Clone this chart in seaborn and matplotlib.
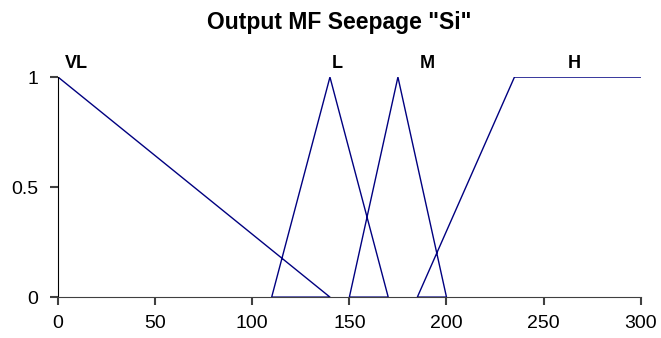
import matplotlib
matplotlib.use("Agg")
import matplotlib.pyplot as plt
import pandas as pd
import seaborn as sns

# membership function traced as one continuous series (as in the original sheet)
x_pts = [0, 140, 110, 140, 170, 150, 175, 200, 185, 235, 300]
y_pts = [1, 0, 0, 1, 0, 0, 1, 0, 0, 1, 1]

mf_labels = ["VL", "L", "M", "H"]
label_x = [9.3, 144, 190, 266]

x_ticks = [0, 50, 100, 150, 200, 250, 300]
y_ticks = [0, 0.5, 1]

df = pd.DataFrame({"x": x_pts, "y": y_pts})

sns.set_style("ticks")
plt.rcParams["font.family"] = ["Liberation Sans", "DejaVu Sans"]
plt.rcParams["text.color"] = "black"
plt.rcParams["xtick.color"] = "#404040"
plt.rcParams["ytick.color"] = "#404040"
plt.rcParams["xtick.labelcolor"] = "black"
plt.rcParams["ytick.labelcolor"] = "black"

fig = plt.figure(figsize=(6.61, 3.38), dpi=100)
ax = fig.add_axes([0.0878, 0.121, 0.8815, 0.651])

sns.lineplot(data=df, x="x", y="y", sort=False, estimator=None,
             color="#000080", linewidth=1.0, ax=ax)

for lab, lx in zip(mf_labels, label_x):
    ax.text(lx, 1.04, lab, ha="center", va="baseline", fontsize=13,
            fontweight="bold", color="black", clip_on=False)

ax.set(xlim=(0, 300), ylim=(0, 1), xticks=x_ticks, yticks=y_ticks,
       xlabel="", ylabel="")
ax.set_yticklabels(["0", "0.5", "1"])
ax.tick_params(length=6, width=1.5, labelsize=14)
ax.tick_params(axis="x", pad=7)
ax.tick_params(axis="y", pad=8)
sns.despine(ax=ax)
ax.spines["left"].set_color("black")
ax.spines["bottom"].set_color("#404040")

fig.text(0.513, 1 - 29 / 338, 'Output MF Seepage "Si"', ha="center", va="baseline",
         fontsize=16.5, fontweight="bold", color="black")

fig.savefig("out.png", dpi=100)
